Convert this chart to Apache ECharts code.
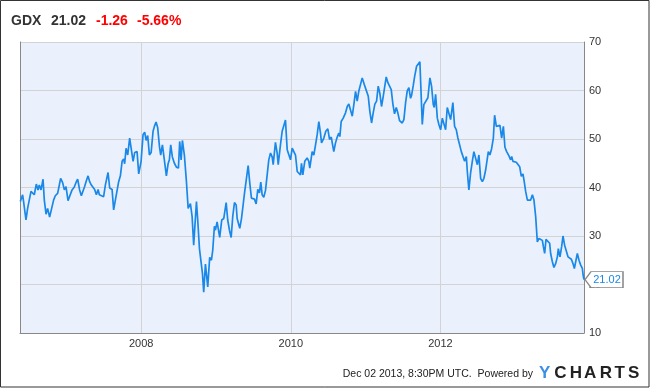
<!DOCTYPE html>
<html>
<head>
<meta charset="utf-8">
<script src="https://cdn.jsdelivr.net/npm/echarts@6/dist/echarts.min.js"></script>
<style>
html,body{margin:0;padding:0;background:#fff;}
#chart{width:650px;height:388px;}
</style>
</head>
<body>
<div id="chart"></div>
<script>
// Dates as decimal years, weekly-ish readings of GDX closing price
const dates = [
2006.384,2006.397,2006.415,2006.428,2006.460,2006.482,2006.500,2006.527,2006.549,2006.571,
2006.598,2006.621,2006.638,2006.661,2006.688,2006.705,2006.728,2006.749,2006.776,2006.799,
2006.829,2006.852,2006.883,2006.902,2006.923,2006.950,2006.973,2006.995,2007.022,2007.044,
2007.076,2007.106,2007.133,2007.151,2007.177,2007.200,2007.223,2007.244,2007.267,2007.290,
2007.311,2007.334,2007.357,2007.378,2007.401,2007.424,2007.441,2007.454,2007.498,2007.521,
2007.557,2007.579,2007.611,2007.632,2007.655,2007.678,2007.699,2007.722,2007.745,2007.766,
2007.779,2007.798,2007.820,2007.846,2007.865,2007.892,2007.913,2007.945,2007.967,2007.999,
2008.025,2008.047,2008.066,2008.087,2008.110,2008.133,2008.159,2008.177,2008.199,2008.221,
2008.244,2008.261,2008.284,2008.306,2008.337,2008.360,2008.377,2008.395,2008.417,2008.444,
2008.471,2008.498,2008.515,2008.534,2008.551,2008.578,2008.605,2008.628,2008.658,2008.681,
2008.702,2008.739,2008.756,2008.779,2008.801,2008.819,2008.836,2008.859,2008.890,2008.916,
2008.939,2008.957,2008.979,2008.993,2009.015,2009.037,2009.050,2009.077,2009.104,2009.136,
2009.157,2009.180,2009.203,2009.224,2009.247,2009.270,2009.283,2009.304,2009.318,2009.341,
2009.363,2009.381,2009.403,2009.430,2009.452,2009.474,2009.497,2009.515,2009.537,2009.559,
2009.581,2009.599,2009.617,2009.639,2009.662,2009.684,2009.706,2009.729,2009.751,2009.765,
2009.795,2009.818,2009.832,2009.862,2009.885,2009.906,2009.929,2009.952,2009.973,2009.996,
2010.019,2010.040,2010.063,2010.086,2010.107,2010.130,2010.143,2010.161,2010.187,2010.219,
2010.241,2010.254,2010.286,2010.308,2010.331,2010.353,2010.375,2010.397,2010.411,2010.442,
2010.468,2010.495,2010.518,2010.541,2010.575,2010.598,2010.621,2010.642,2010.656,2010.674,
2010.701,2010.732,2010.755,2010.776,2010.799,2010.822,2010.843,2010.866,2010.888,2010.910,
2010.933,2010.955,2010.969,2010.990,2011.013,2011.036,2011.057,2011.080,2011.102,2011.124,
2011.147,2011.169,2011.191,2011.213,2011.236,2011.258,2011.276,2011.298,2011.320,2011.343,
2011.365,2011.387,2011.410,2011.431,2011.454,2011.472,2011.490,2011.512,2011.535,2011.557,
2011.579,2011.601,2011.615,2011.638,2011.655,2011.682,2011.699,2011.726,2011.758,2011.779,
2011.802,2011.833,2011.860,2011.882,2011.905,2011.918,2011.936,2011.959,2011.980,2012.003,
2012.026,2012.047,2012.070,2012.092,2012.114,2012.137,2012.167,2012.190,2012.213,2012.234,
2012.257,2012.280,2012.301,2012.324,2012.347,2012.360,2012.381,2012.404,2012.427,2012.448,
2012.471,2012.494,2012.515,2012.538,2012.561,2012.582,2012.605,2012.627,2012.641,2012.662,
2012.685,2012.708,2012.725,2012.748,2012.769,2012.796,2012.819,2012.842,2012.863,2012.886,
2012.917,2012.939,2012.953,2012.970,2012.993,2013.015,2013.037,2013.060,2013.082,2013.104,
2013.117,2013.140,2013.163,2013.184,2013.207,2013.230,2013.251,2013.274,2013.296,2013.318,
2013.341,2013.363,2013.377,2013.394,2013.412,2013.438,2013.461,2013.474,2013.497,2013.518,
2013.541,2013.564,2013.577,2013.599,2013.621,2013.639,2013.661,2013.684,2013.706,2013.728,
2013.751,2013.773,2013.791,2013.813,2013.831,2013.853,2013.876,2013.898,2013.908,2013.920
];
const prices = [
37.1,37.4,38.5,37.1,33.3,35.7,35.4,39.2,39.4,38.5,
40.7,39.5,40.5,39.5,41.7,37.4,34.5,35.7,33.9,34.3,
37.4,38.3,38.8,40.2,41.9,41.0,39.5,40.2,37.3,37.1,
39.5,40.1,41.2,41.7,39.5,38.3,38.5,40.2,41.4,42.4,
41.2,40.5,40.5,39.6,38.5,39.6,38.5,38.9,38.1,40.5,
43.1,39.9,39.6,35.4,37.4,37.8,41.2,42.4,45.4,45.9,
44.9,48.1,46.7,50.2,50.4,45.4,47.2,47.4,42.8,45.4,
50.9,51.4,49.7,50.7,46.7,47.2,51.6,52.6,53.5,52.3,
48.5,46.7,48.8,49.2,42.4,44.9,45.7,48.8,46.3,45.0,
44.2,44.0,49.5,45.7,49.7,46.6,41.2,35.7,36.7,34.0,
28.1,37.1,33.3,27.4,27.6,22.3,18.4,24.2,19.5,25.6,
25.0,27.1,32.0,31.2,32.9,32.5,29.7,33.3,33.6,36.9,
33.3,31.2,29.7,34.0,36.9,36.4,33.6,33.3,31.6,33.6,
36.4,38.8,39.2,44.5,40.9,37.8,37.4,37.6,36.6,39.6,
38.9,41.1,38.5,38.0,39.4,39.2,45.7,47.1,46.3,44.7,
49.3,47.1,44.7,48.8,51.6,51.8,53.9,47.8,47.4,45.7,
48.1,48.5,46.7,43.3,43.1,42.6,45.0,42.6,45.4,46.1,
45.4,44.0,47.4,46.7,48.8,50.9,53.6,51.2,49.2,50.2,
51.6,52.1,49.9,50.4,47.4,49.2,50.4,51.2,50.5,53.6,
54.3,55.4,56.7,57.2,57.1,54.7,57.1,59.8,57.8,59.9,
59.8,62.6,62.4,60.9,61.3,58.8,55.7,53.3,55.4,57.2,
57.8,60.9,59.4,56.7,58.8,58.4,62.8,61.6,61.8,60.2,
57.2,55.2,56.5,55.4,53.8,54.2,53.3,54.0,57.5,59.9,
60.6,58.4,59.0,61.1,62.8,65.0,64.6,65.9,53.0,57.1,
57.2,58.5,62.6,60.9,57.1,56.5,59.2,54.3,53.0,51.9,
54.3,54.5,51.9,56.5,56.1,54.0,57.5,52.6,51.9,50.2,
49.9,47.4,47.1,45.4,46.4,43.3,39.5,43.0,45.4,47.4,
47.6,44.7,46.7,41.9,41.2,41.9,43.6,44.0,47.4,46.7,
48.0,50.2,54.9,52.6,52.8,52.8,50.2,52.6,48.3,47.4,
46.5,45.7,46.4,45.4,45.4,45.2,45.0,44.3,42.3,42.8,
41.6,39.2,37.4,37.1,37.4,38.5,37.4,34.0,28.8,29.5,
29.7,29.1,27.8,26.4,29.3,29.1,28.5,26.4,24.7,23.5,
24.3,25.7,27.4,25.7,27.8,30.0,28.1,27.8,25.7,25.4,
25.2,24.3,23.3,25.0,26.4,25.0,24.0,23.3,22.0,21.02
];
const yearTicks = [2008, 2010, 2012];
const ticker = 'GDX';
const lastPrice = '21.02';
const change = '-1.26';
const changePct = '-5.66%';
const footerText = 'Dec 02 2013, 8:30PM UTC.  Powered by';
const brand = ['Y','C','H','A','R','T','S'];

const seriesData = dates.map((d, i) => [d, prices[i]]);
const last = seriesData[seriesData.length - 1];

const FONT = '"Liberation Sans", Arial, sans-serif';
const chart = echarts.init(document.getElementById('chart'), null, {renderer: 'canvas'});

const graphics = [
  {type:'rect', shape:{x:0.5, y:0.5, width:648.5, height:386.5}, style:{fill:'none', stroke:'#333', lineWidth:1}, silent:true},
  {type:'text', x:11, y:21, style:{text:ticker, font:'bold 14px ' + FONT, fill:'#333', textVerticalAlign:'middle', verticalAlign:'middle'}},
  {type:'text', x:51, y:21, style:{text:lastPrice, font:'bold 14px ' + FONT, fill:'#333', textVerticalAlign:'middle', verticalAlign:'middle'}},
  {type:'text', x:96, y:21, style:{text:change, font:'bold 14px ' + FONT, fill:'#ff0000', textVerticalAlign:'middle', verticalAlign:'middle'}},
  {type:'text', x:137, y:21, style:{text:changePct, font:'bold 14px ' + FONT, fill:'#ff0000', textVerticalAlign:'middle', verticalAlign:'middle'}},
  {type:'text', x:533, y:374, style:{text:footerText, font:'10.5px ' + FONT, fill:'#222', textAlign:'right', align:'right', textVerticalAlign:'middle', verticalAlign:'middle'}}
];
// brand letters, spaced out like the logo
let bx = 539;
const bw = [15.2, 15.6, 14.3, 15.6, 14.8, 13.6];
brand.forEach((ch, i) => {
  graphics.push({type:'text', x:bx, y:373, style:{text:ch, font:'bold 17px ' + FONT, fill: i === 0 ? '#3d8fe6' : '#222', textVerticalAlign:'middle', verticalAlign:'middle'}});
  bx += bw[i] || 0;
});

chart.setOption({
  animation: false,
  backgroundColor: '#fff',
  grid: {left: 20, right: 66, top: 42, bottom: 55, show: true, backgroundColor: '#EAF1FD', borderWidth: 0},
  xAxis: {
    type: 'value', min: 2006.38, max: 2013.92,
    axisLine: {show: true, onZero: false, lineStyle: {color: '#888', width: 1}},
    axisTick: {show: false, customValues: yearTicks},
    axisLabel: {customValues: yearTicks, formatter: v => String(v), color: '#333', fontSize: 11, fontFamily: FONT, margin: 5},
    splitLine: {show: true, lineStyle: {color: '#d3d3d3', width: 1}}
  },
  yAxis: [
    {
      type: 'value', position: 'right', min: 10, max: 70, interval: 10,
      axisLine: {show: true, lineStyle: {color: '#888', width: 1}},
      axisTick: {show: false},
      axisLabel: {color: '#333', fontSize: 11, fontFamily: FONT, margin: 5},
      splitLine: {show: true, lineStyle: {color: '#d3d3d3', width: 1}}
    },
    {
      type: 'value', position: 'left', min: 10, max: 70, interval: 10,
      axisLine: {show: true, lineStyle: {color: '#888', width: 1}},
      axisTick: {show: false}, axisLabel: {show: false}, splitLine: {show: false}
    }
  ],
  series: [{
    type: 'line',
    data: seriesData,
    showSymbol: false,
    symbol: 'none',
    lineStyle: {color: '#1a88e8', width: 1.7},
    itemStyle: {color: '#1a88e8'},
    markPoint: {
      symbol: 'path://M0,8 L6,0 L38,0 L38,16 L6,16 Z',
      symbolSize: [38, 16],
      symbolOffset: [20, 0],
      itemStyle: {color: '#fff', borderColor: '#888', borderWidth: 1},
      label: {show: true, formatter: lastPrice, color: '#1a88e8', fontSize: 11, fontFamily: FONT, offset: [3, 0]},
      data: [{coord: last}]
    }
  }],
  graphic: graphics
});
</script>
</body>
</html>
